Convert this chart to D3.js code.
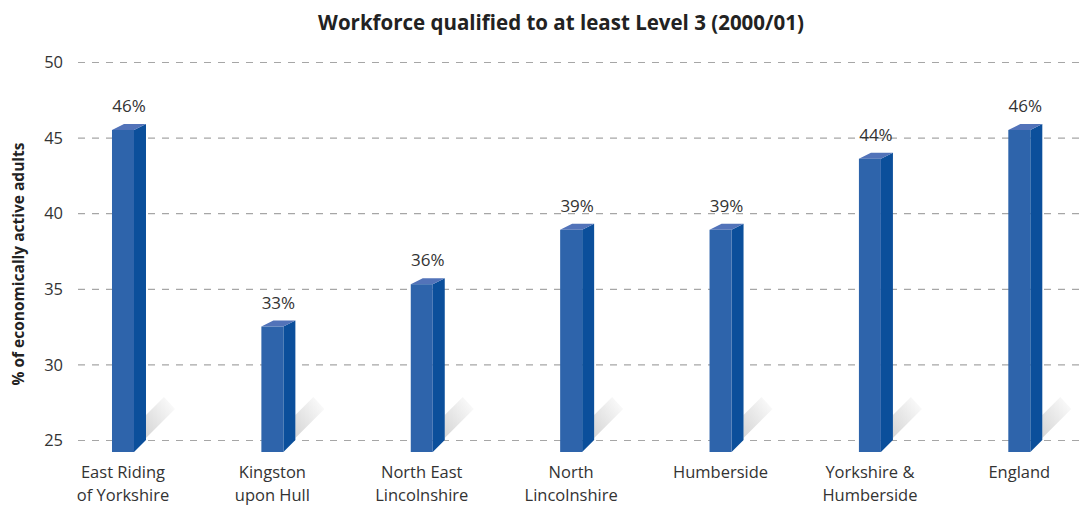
<!DOCTYPE html>
<html>
<head>
<meta charset="utf-8">
<script src="https://cdn.jsdelivr.net/npm/d3@7"></script>
<style>
  html, body { margin: 0; padding: 0; background: #fff; }
  svg text { font-family: "Open Sans", "Noto Sans", sans-serif; }
</style>
</head>
<body>
<svg id="chart" width="1080" height="507"></svg>
<script>
// Share of economically active adults qualified to at least Level 3, 2000/01
const categories = [
  ["East Riding", "of Yorkshire"],
  ["Kingston", "upon Hull"],
  ["North East", "Lincolnshire"],
  ["North", "Lincolnshire"],
  ["Humberside"],
  ["Yorkshire &", "Humberside"],
  ["England"]
];
const values = [45.9, 32.9, 35.7, 39.3, 39.3, 44.0, 45.9];
const yTicks = [25, 30, 35, 40, 45, 50];
const title = "Workforce qualified to at least Level 3 (2000/01)";
const yTitle = "% of economically active adults";

const svg = d3.select("#chart");
const keys = categories.map(c => c.join(" "));

const x = d3.scaleBand().domain(keys).range([48.3, 1094]).padding(0);
const y = d3.scaleLinear().domain([25, 50]).range([440, 62]);

const frontW = 22, depthX = 12, depthY = 6, floorFront = 452;
const colFront = "#2e64ab", colSide = "#0b4f9b", colTop = "#5273b9";

// gradient for the floor shadow behind each column
const defs = svg.append("defs");
const grad = defs.append("linearGradient").attr("id", "shade")
  .attr("x1", 0).attr("y1", 1).attr("x2", 1).attr("y2", 0);
grad.append("stop").attr("offset", "0%").attr("stop-color", "#d4d4d4");
grad.append("stop").attr("offset", "100%").attr("stop-color", "#ffffff");

// title
svg.append("text")
  .attr("x", 561).attr("y", 30)
  .attr("text-anchor", "middle")
  .attr("font-size", 20.5).attr("font-weight", "bold").attr("fill", "#222")
  .text(title);

// y axis title
svg.append("text")
  .attr("transform", "translate(24,264) rotate(-90)")
  .attr("text-anchor", "middle")
  .attr("font-size", 15.5).attr("font-weight", "bold").attr("fill", "#222")
  .text(yTitle);

// y axis: dashed gridlines and tick labels
const yAxis = d3.axisLeft(y).tickValues(yTicks).tickSize(0).tickPadding(0);
const gy = svg.append("g").attr("transform", "translate(64,0)").call(yAxis);
gy.select(".domain").remove();
gy.selectAll(".tick text")
  .attr("x", -1).attr("dy", "0.35em")
  .attr("font-size", 16.5).attr("fill", "#333")
  .style("font-family", "'Open Sans', 'Noto Sans', sans-serif");
gy.selectAll(".tick line")
  .attr("x1", 14).attr("x2", 1016)
  .attr("stroke", "#a6a6a6").attr("stroke-width", 1.2)
  .attr("stroke-dasharray", "7,7");

const bars = svg.append("g").selectAll("g.bar")
  .data(keys.map((k, i) => ({ key: k, value: values[i], lines: categories[i] })))
  .join("g").attr("class", "bar");

const fx = d => x(d.key) + x.bandwidth() / 2 - frontW / 2;

// floor shadow
bars.append("path")
  .attr("fill", "url(#shade)")
  .attr("d", d => {
    const r = fx(d) + frontW + depthX;
    return `M${r},440 L${r},415 L${r + 18},397 L${r + 29},409 L${r},438 Z`;
  });

// side face
bars.append("path")
  .attr("fill", colSide)
  .attr("d", d => {
    const r = fx(d) + frontW, t = y(d.value);
    return `M${r},${t + depthY} L${r + depthX},${t} L${r + depthX},440 L${r},${floorFront} Z`;
  });

// top face
bars.append("path")
  .attr("fill", colTop)
  .attr("d", d => {
    const l = fx(d), t = y(d.value);
    return `M${l},${t + depthY} L${l + depthX},${t} L${l + frontW + depthX},${t} L${l + frontW},${t + depthY} Z`;
  });

// front face
bars.append("rect")
  .attr("fill", colFront)
  .attr("x", d => fx(d))
  .attr("y", d => y(d.value) + depthY)
  .attr("width", frontW)
  .attr("height", d => floorFront - y(d.value) - depthY);

// value labels
bars.append("text")
  .attr("x", d => fx(d) + (frontW + depthX) / 2)
  .attr("y", d => y(d.value) - 12)
  .attr("text-anchor", "middle")
  .attr("font-size", 17).attr("fill", "#333")
  .text(d => d3.format(".0f")(d.value) + "%");

// category labels
bars.append("text")
  .attr("x", d => x(d.key) + x.bandwidth() / 2)
  .attr("y", 478)
  .attr("text-anchor", "middle")
  .attr("font-size", 16.5).attr("fill", "#333")
  .selectAll("tspan")
  .data(d => d.lines)
  .join("tspan")
  .attr("x", function () { return d3.select(this.parentNode).attr("x"); })
  .attr("dy", (s, i) => i === 0 ? 0 : 23)
  .text(s => s);
</script>
</body>
</html>
